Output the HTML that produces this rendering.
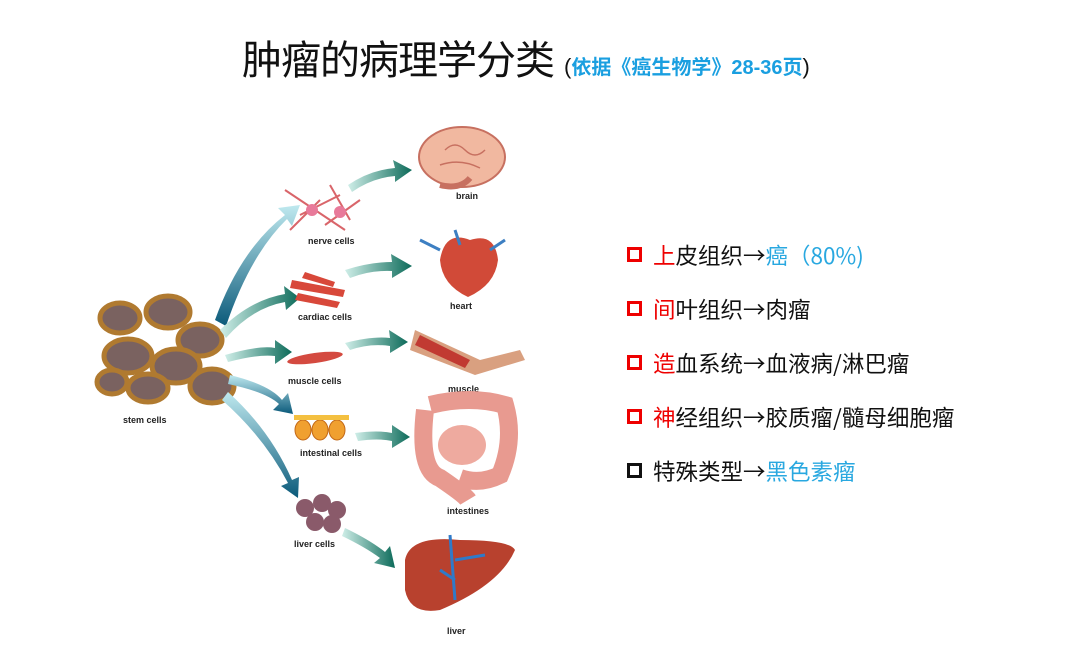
<!DOCTYPE html>
<html><head><meta charset="utf-8"><style>
body{margin:0;width:1080px;height:651px;background:#fff;overflow:hidden;position:relative;font-family:"Liberation Sans","Noto Sans CJK SC",sans-serif}
.t{position:absolute;left:242px;top:28px;font-size:40px;color:#111;white-space:nowrap;letter-spacing:-1px}
.t span{font-size:20px;color:#1a9fe0;font-weight:bold;letter-spacing:0;margin-left:10px}
.t span b{color:#111;font-weight:normal;font-size:22px}
.li{position:absolute;left:627px;font-size:22.5px;color:#111;white-space:nowrap;line-height:26px;font-family:"Noto Sans CJK SC",sans-serif}
.li i{display:inline-block;width:9px;height:9px;border:3px solid #e00;margin-right:11px;vertical-align:2px}
.r{color:#e00}.b{color:#29a8e0}
svg text{font-family:"Liberation Sans",sans-serif;font-size:9px;font-weight:bold;fill:#222}
</style></head><body>
<div class="t">肿瘤的病理学分类<span><b>(</b>依据《癌生物学》28-36页<b>)</b></span></div>
<div class="li" style="top:242px"><i></i><span class="r">上</span>皮组织→<span class="b">癌（80%)</span></div>
<div class="li" style="top:296px"><i></i><span class="r">间</span>叶组织→肉瘤</div>
<div class="li" style="top:350px"><i></i><span class="r">造</span>血系统→血液病/淋巴瘤</div>
<div class="li" style="top:404px"><i></i><span class="r">神</span>经组织→胶质瘤/髓母细胞瘤</div>
<div class="li" style="top:458px"><i style="border-color:#111"></i>特殊类型→<span class="b">黑色素瘤</span></div>
<svg width="1080" height="651" style="position:absolute;left:0;top:0">
<defs><linearGradient id="g" x1="0" y1="0" x2="1" y2="0"><stop offset="0" stop-color="#cfeee8"/><stop offset="1" stop-color="#0d6b5a"/></linearGradient>
<linearGradient id="gb" x1="0" y1="0" x2="0" y2="1"><stop offset="0" stop-color="#bfe9ef"/><stop offset="1" stop-color="#0b5a7a"/></linearGradient></defs>
<g stroke="#b07a30" stroke-width="5" fill="#7a6260">
<ellipse cx="120" cy="318" rx="20" ry="15"/><ellipse cx="168" cy="312" rx="22" ry="16"/><ellipse cx="200" cy="340" rx="22" ry="16"/>
<ellipse cx="128" cy="356" rx="24" ry="17"/><ellipse cx="176" cy="366" rx="24" ry="17"/><ellipse cx="212" cy="386" rx="22" ry="17"/>
<ellipse cx="112" cy="382" rx="15" ry="12"/><ellipse cx="148" cy="388" rx="20" ry="14"/></g>
<text x="123" y="423">stem cells</text>
<path d="M215 320 Q240 250 285 215 L278 208 L300 205 L292 226 L287 219 Q250 255 226 326Z" fill="url(#gb)"/>
<path d="M220 330 Q250 300 285 294 L284 286 L300 298 L286 310 L285 302 Q252 308 226 338Z" fill="url(#g)"/>
<path d="M225 355 Q260 345 275 348 L275 340 L292 352 L275 364 L275 356 Q258 354 228 362Z" fill="url(#g)"/>
<path d="M230 375 Q270 385 282 400 L288 393 L293 414 L273 410 L279 404 Q266 392 228 384Z" fill="url(#gb)"/>
<path d="M228 392 Q270 430 292 480 L299 477 L298 498 L281 486 L288 483 Q264 437 222 400Z" fill="url(#gb)"/>
<path d="M348 185 Q370 170 395 168 L393 160 L412 170 L395 182 L395 176 Q372 178 352 192Z" fill="url(#g)"/>
<path d="M345 270 Q370 262 392 262 L391 254 L412 266 L392 278 L392 271 Q370 270 350 278Z" fill="url(#g)"/>
<path d="M345 343 Q372 336 390 338 L389 330 L408 342 L390 353 L390 346 Q370 343 350 350Z" fill="url(#g)"/>
<path d="M355 433 Q378 430 392 433 L392 425 L410 437 L392 448 L392 441 Q378 438 358 441Z" fill="url(#g)"/>
<path d="M345 528 Q370 540 385 552 L390 546 L395 568 L374 563 L380 558 Q365 547 342 536Z" fill="url(#g)"/>
<g stroke="#d9656a" stroke-width="2"><path d="M285 190 L345 230 M300 215 L340 195 M290 230 L320 200 M330 185 L350 220 M360 200 L325 225"/></g>
<circle cx="312" cy="210" r="6" fill="#e87a9a"/><circle cx="340" cy="212" r="6" fill="#e87a9a"/>
<text x="308" y="244">nerve cells</text>
<g fill="#d8483a"><path d="M292 280 L345 290 L343 297 L290 288Z"/><path d="M298 293 L340 302 L337 308 L295 300Z"/><path d="M305 272 L335 282 L333 287 L302 278Z"/></g>
<text x="298" y="320">cardiac cells</text>
<ellipse cx="315" cy="358" rx="28" ry="5" fill="#d44a40" transform="rotate(-8 315 358)"/>
<text x="288" y="384">muscle cells</text>
<g fill="#f0a030" stroke="#c26818"><ellipse cx="303" cy="430" rx="8" ry="10"/><ellipse cx="320" cy="430" rx="8" ry="10"/><ellipse cx="337" cy="430" rx="8" ry="10"/></g>
<rect x="294" y="415" width="55" height="5" fill="#f4c040"/>
<text x="300" y="456">intestinal cells</text>
<g fill="#8a5a6a"><circle cx="305" cy="508" r="9"/><circle cx="322" cy="503" r="9"/><circle cx="337" cy="510" r="9"/><circle cx="315" cy="522" r="9"/><circle cx="332" cy="524" r="9"/></g>
<text x="294" y="547">liver cells</text>
<ellipse cx="462" cy="157" rx="43" ry="30" fill="#f1b8a0" stroke="#c77060" stroke-width="2"/>
<path d="M445 150 Q455 140 465 150 Q475 160 485 150 M440 165 Q460 158 480 168" stroke="#c77060" fill="none" stroke-width="1.5"/>
<path d="M440 185 Q460 190 470 178" stroke="#c77060" fill="none" stroke-width="6"/>
<text x="456" y="199">brain</text>
<path d="M440 260 Q445 230 470 240 Q495 232 498 260 Q495 285 468 297 Q442 285 440 260Z" fill="#d14a38"/>
<path d="M420 240 L440 250 M505 240 L490 250 M455 230 L460 245" stroke="#3d7fc2" stroke-width="3"/>
<text x="450" y="309">heart</text>
<path d="M415 330 L480 360 L520 350 L525 360 L475 375 L410 350Z" fill="#d9a080"/>
<path d="M420 335 L470 360 L465 368 L415 345Z" fill="#c13a32"/>
<text x="448" y="392">muscle</text>
<path d="M425 410 Q418 470 440 478 Q465 495 468 500 M430 405 Q470 395 505 405 Q515 440 500 475 Q480 485 460 478" stroke="#e89a90" stroke-width="18" fill="none"/>
<ellipse cx="462" cy="445" rx="24" ry="20" fill="#eeaa9f"/>
<text x="447" y="514">intestines</text>
<path d="M405 560 Q410 535 460 540 Q510 540 515 550 Q500 585 440 610 Q410 615 405 590Z" fill="#b8412e"/>
<path d="M450 535 L455 600 M455 560 L485 555 M440 570 L455 580" stroke="#2f7ac9" stroke-width="3" fill="none"/>
<text x="447" y="634">liver</text>
</svg>
</body></html>
